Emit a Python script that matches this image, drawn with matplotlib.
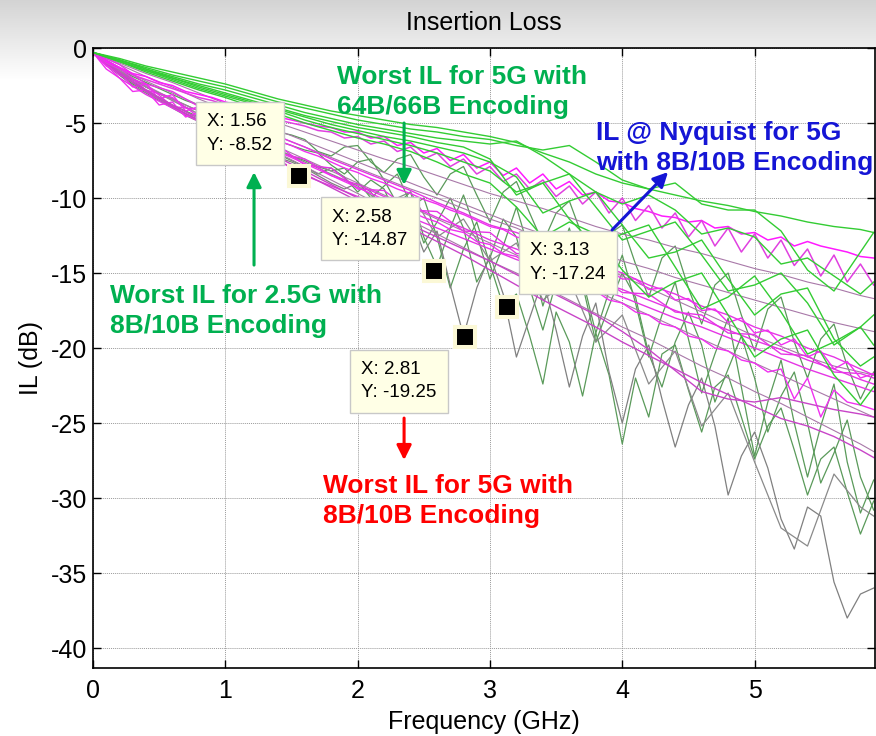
import numpy as np
import matplotlib
matplotlib.use("Agg")
import matplotlib.pyplot as plt
import matplotlib.transforms as mtransforms

plt.rcParams["font.family"] = ["Liberation Sans", "DejaVu Sans"]

# frequency grids (GHz)
freq_coarse = [0.0, 0.2, 0.4, 0.6, 0.8, 1.0, 1.2, 1.4, 1.6, 1.8, 2.0, 2.2, 2.4, 2.6, 2.8,
               3.0, 3.2, 3.4, 3.6, 3.8, 4.0, 4.2, 4.4, 4.6, 4.8, 5.0, 5.2, 5.4, 5.6, 5.8, 5.9]
freq_fine = [0.0, 0.1, 0.2, 0.3, 0.4, 0.5, 0.6, 0.7, 0.8, 0.9, 1.0, 1.1, 1.2, 1.3, 1.4,
             1.5, 1.6, 1.7, 1.8, 1.9, 2.0, 2.1, 2.2, 2.3, 2.4, 2.5, 2.6, 2.7, 2.8, 2.9,
             3.0, 3.1, 3.2, 3.3, 3.4, 3.5, 3.6, 3.7, 3.8, 3.9, 4.0, 4.1, 4.2, 4.3, 4.4,
             4.5, 4.6, 4.7, 4.8, 4.9, 5.0, 5.1, 5.2, 5.3, 5.4, 5.5, 5.6, 5.7, 5.8, 5.9]

# bright green channels (coarse grid)
green_1 = [-0.3, -0.7, -1.2, -1.6, -2.0, -2.4, -2.9, -3.4, -3.8, -4.2, -4.5, -4.8, -5.1, -5.3, -5.6,
           -5.9, -6.3, -7.0, -7.6, -8.4, -9.0, -9.4, -9.8, -10.2, -10.5, -10.9, -11.2, -11.6, -11.9, -12.1, -12.3]
green_2 = [-0.3, -0.8, -1.3, -1.8, -2.2, -2.6, -3.1, -3.6, -4.0, -4.4, -4.8, -5.1, -5.4, -5.6, -5.9,
           -6.1, -6.5, -6.8, -6.5, -7.6, -8.8, -9.4, -9.0, -10.4, -10.8, -10.8, -12.2, -14.8, -16.2, -13.6, -12.3]
green_3 = [-0.3, -0.8, -1.4, -1.9, -2.4, -2.8, -3.3, -3.8, -4.3, -4.7, -5.1, -5.4, -5.7, -6.0, -6.2,
           -6.4, -6.2, -7.2, -8.4, -9.6, -10.4, -9.8, -10.8, -12.4, -12.0, -12.6, -14.4, -14.0, -15.2, -16.4, -15.6]
green_4 = [-0.3, -0.8, -1.4, -2.0, -2.5, -3.0, -3.5, -4.0, -4.5, -4.9, -5.3, -5.6, -5.9, -6.3, -6.6,
           -7.4, -9.8, -9.0, -8.4, -10.6, -12.8, -12.2, -11.6, -13.8, -16.2, -15.8, -15.0, -17.0, -19.8, -18.6, -17.8]
green_5 = [-0.3, -0.9, -1.5, -2.0, -2.6, -3.1, -3.6, -4.1, -4.6, -5.1, -5.5, -5.9, -6.2, -6.6, -7.0,
           -7.6, -8.6, -11.0, -10.2, -9.6, -11.8, -14.0, -13.6, -12.8, -15.4, -17.8, -16.4, -16.0, -19.4, -21.2, -20.6]
green_6 = [-0.3, -0.9, -1.5, -2.1, -2.7, -3.2, -3.7, -4.2, -4.8, -5.3, -5.7, -6.1, -6.5, -7.0, -7.6,
           -8.2, -9.6, -9.0, -11.4, -13.2, -12.4, -11.8, -14.6, -17.4, -16.6, -15.2, -17.6, -20.4, -19.6, -18.6, -19.8]
green_7 = [-0.3, -0.9, -1.6, -2.2, -2.8, -3.3, -3.9, -4.4, -5.0, -5.5, -6.0, -6.4, -6.9, -7.6, -8.4,
           -9.0, -10.6, -12.6, -11.6, -12.4, -14.8, -16.6, -15.6, -15.0, -17.8, -20.6, -19.4, -18.8, -21.8, -23.8, -22.6]

# magenta channels
magenta_top = [-0.3, -0.9, -1.3, -1.7, -1.9, -2.3, -2.5, -2.9, -3.1, -3.3, -3.6, -3.8, -4.1, -4.3, -4.6,
               -4.8, -5.0, -5.2, -5.3, -5.6, -5.6, -6.0, -5.9, -6.5, -6.3, -7.0, -6.7, -7.5, -7.1, -8.0,
               -7.6, -8.5, -8.0, -9.0, -8.4, -9.4, -8.9, -9.8, -9.6, -10.2, -10.3, -10.7, -10.9, -11.2, -11.3,
               -11.6, -11.5, -12.0, -11.9, -12.4, -12.3, -12.8, -12.6, -13.2, -12.9, -13.2, -13.4, -13.6, -13.9, -14.0]
magenta_ripple = [-0.3, -1.0, -1.4, -1.8, -2.1, -2.4, -2.7, -3.0, -3.3, -3.5, -3.8, -4.0, -4.3, -4.5, -4.8,
                  -5.0, -5.2, -5.5, -5.6, -6.0, -5.9, -6.4, -6.2, -6.9, -6.6, -7.4, -7.0, -7.9, -7.4, -8.4,
                  -7.9, -8.9, -8.4, -9.4, -8.8, -9.9, -9.2, -10.4, -9.6, -11.0, -10.0, -11.5, -10.5, -12.0, -11.0,
                  -12.6, -11.5, -13.2, -12.0, -13.6, -12.4, -14.0, -12.8, -14.5, -13.4, -15.2, -13.8, -15.6, -14.4, -15.8]
magenta_jag_1 = [-0.3, -1.2, -1.6, -2.6, -2.4, -3.4, -3.1, -4.2, -3.9, -4.7, -4.6, -5.3, -5.4, -5.9, -6.2,
                 -6.5, -6.9, -7.2, -7.6, -8.0, -8.3, -8.7, -9.0, -9.4, -9.7, -10.1, -10.4, -10.8, -11.1, -11.5,
                 -11.9, -12.1, -12.6, -12.8, -13.3, -13.5, -14.0, -14.1, -14.7, -14.8, -15.4, -15.4, -16.1, -16.0, -16.8,
                 -16.7, -17.5, -17.4, -18.3, -18.0, -19.0, -18.8, -19.8, -19.4, -20.6, -20.2, -21.4, -20.9, -22.0, -21.7]
magenta_jag_2 = [-0.3, -1.4, -2.0, -2.9, -2.8, -3.8, -3.6, -4.6, -4.3, -5.2, -5.1, -5.8, -6.0, -6.5, -6.9,
                 -7.3, -7.7, -8.1, -8.5, -8.9, -9.3, -9.7, -10.1, -10.5, -10.9, -11.3, -11.6, -12.1, -12.3, -12.9,
                 -13.1, -13.7, -13.9, -14.5, -14.6, -15.3, -15.4, -16.0, -16.2, -16.8, -17.0, -17.6, -17.8, -18.4, -18.6,
                 -19.2, -19.4, -20.0, -20.2, -20.8, -21.0, -21.6, -21.4, -23.4, -22.0, -24.6, -22.8, -23.6, -23.8, -24.1]
magenta_3 = [-0.3, -1.1, -2.4, -2.9, -3.9, -4.3, -5.2, -5.9, -6.6, -7.4, -8.1, -8.8, -9.5, -10.3, -11.0,
             -11.8, -12.3, -13.0, -13.6, -14.4, -15.0, -15.8, -16.4, -17.2, -17.8, -18.6, -19.2, -20.0, -20.6, -21.4, -21.8]
magenta_4 = [-0.3, -1.8, -2.4, -3.9, -4.1, -5.4, -5.7, -7.0, -7.4, -8.5, -9.1, -9.9, -10.5, -11.3, -12.0,
             -12.8, -13.4, -14.2, -14.8, -15.5, -16.1, -16.8, -17.5, -18.1, -18.8, -19.5, -20.1, -20.8, -21.4, -22.1, -22.4]
magenta_5 = [-0.3, -2.0, -3.1, -4.0, -4.9, -5.6, -6.6, -7.5, -8.5, -9.2, -9.9, -10.6, -11.3, -12.0, -12.7,
             -13.4, -14.1, -14.7, -15.3, -16.0, -16.6, -17.3, -18.0, -18.6, -19.3, -20.0, -20.7, -21.4, -22.0, -22.6, -22.9]
magenta_6 = [-0.3, -1.3, -2.8, -3.3, -4.6, -4.8, -6.2, -6.5, -7.8, -8.0, -9.4, -9.5, -10.8, -10.9, -12.2,
             -12.3, -13.7, -13.8, -15.0, -15.1, -16.3, -16.4, -17.6, -17.8, -19.0, -19.1, -20.4, -20.5, -21.6, -21.7, -22.0]
magenta_7 = [-0.3, -1.6, -2.8, -3.8, -4.7, -5.5, -6.4, -7.3, -8.2, -9.1, -10.0, -10.9, -11.8, -12.6, -13.4,
             -14.2, -15.1, -16.0, -16.9, -17.8, -18.9, -20.1, -21.5, -22.9, -23.4, -23.6, -23.3, -23.7, -24.1, -24.4, -24.6]
magenta_8 = [-0.3, -1.7, -2.9, -3.9, -4.8, -5.6, -6.6, -7.5, -8.4, -9.3, -10.2, -11.1, -12.0, -12.9, -13.8,
             -14.8, -15.8, -16.8, -17.7, -18.6, -19.6, -20.5, -21.4, -22.3, -23.1, -23.9, -24.7, -25.2, -25.9, -26.8, -27.3]

# purple-grey channels (coarse grid)
purple_1 = [-0.3, -1.0, -1.7, -2.3, -3.0, -3.7, -4.3, -5.0, -5.6, -6.2, -6.8, -7.4, -7.9, -8.5, -9.1,
            -9.7, -10.2, -10.7, -11.3, -11.9, -12.4, -12.8, -13.3, -13.7, -14.2, -14.7, -15.1, -15.6, -16.0, -16.5, -16.7]
purple_2 = [-0.3, -1.1, -1.9, -2.6, -3.4, -4.1, -4.8, -5.5, -6.2, -6.9, -7.6, -8.3, -9.0, -9.7, -10.4,
            -11.1, -11.8, -12.4, -13.0, -13.6, -14.2, -14.7, -15.3, -15.8, -16.3, -16.8, -17.3, -17.8, -18.3, -18.7, -18.9]
purple_3 = [-0.3, -1.6, -2.6, -3.5, -4.4, -5.2, -6.1, -7.0, -7.9, -8.8, -9.7, -10.6, -11.5, -12.4, -13.3,
            -14.2, -15.0, -15.9, -16.8, -17.7, -18.6, -19.4, -20.3, -21.2, -22.0, -22.9, -23.7, -24.6, -25.5, -26.4, -26.9]
purple_4 = [-0.3, -1.5, -2.5, -3.4, -4.2, -5.0, -5.8, -6.6, -7.4, -8.2, -9.0, -9.8, -10.6, -11.4, -12.2,
            -13.0, -13.8, -14.6, -15.4, -16.2, -17.0, -17.8, -18.6, -19.4, -20.2, -21.0, -21.8, -22.6, -23.4, -24.2, -24.6]
purple_5 = [-0.3, -1.3, -2.2, -3.0, -3.8, -4.5, -5.2, -5.9, -6.6, -7.3, -8.0, -8.7, -9.4, -10.0, -10.7,
            -11.4, -12.0, -12.8, -13.6, -14.4, -15.2, -16.0, -16.8, -17.6, -18.4, -19.2, -19.9, -20.6, -21.2, -21.6, -21.8]

# dark green / grey channels with resonances (fine grid)
dark_1 = [-0.3, -0.9, -1.4, -1.9, -2.3, -2.7, -3.1, -3.5, -3.8, -4.1, -4.4, -4.7, -5.0, -5.3, -5.6,
          -5.8, -6.1, -6.9, -7.2, -6.6, -6.5, -7.6, -8.3, -7.4, -7.1, -8.6, -9.8, -8.4, -7.9, -9.8,
          -11.6, -9.6, -8.9, -11.0, -13.0, -11.0, -10.2, -12.6, -14.6, -12.4, -11.8, -14.4, -16.6, -14.0, -13.2,
          -16.0, -18.4, -15.8, -15.0, -17.8, -20.2, -17.4, -16.6, -19.6, -22.0, -19.4, -18.4, -21.2, -23.4, -21.6]
dark_2 = [-0.3, -1.0, -1.6, -2.1, -2.6, -3.0, -3.4, -3.8, -4.2, -4.5, -4.9, -5.2, -5.5, -5.9, -6.2,
          -6.5, -6.8, -7.0, -7.8, -8.4, -7.6, -7.4, -8.8, -10.4, -9.6, -12.6, -14.6, -12.0, -9.8, -12.4,
          -15.4, -13.2, -10.6, -13.6, -17.2, -14.4, -12.0, -15.4, -19.0, -16.2, -13.8, -17.0, -20.6, -17.8, -15.6,
          -19.4, -23.0, -20.4, -18.0, -22.6, -27.2, -23.6, -20.8, -25.0, -28.6, -25.2, -22.4, -27.6, -31.0, -28.8]
dark_3 = [-0.3, -1.1, -1.7, -2.3, -2.8, -3.3, -3.8, -4.2, -4.6, -5.0, -5.4, -5.8, -6.1, -6.5, -6.8,
          -7.2, -7.5, -7.9, -8.2, -8.0, -8.9, -10.0, -9.2, -8.4, -10.4, -13.0, -11.6, -10.0, -12.0, -15.6,
          -14.0, -11.4, -12.6, -16.0, -18.8, -15.6, -13.4, -15.8, -19.6, -17.2, -15.0, -16.6, -20.4, -22.6, -19.6,
          -17.6, -19.8, -23.6, -21.4, -19.2, -22.0, -25.6, -23.2, -21.6, -25.0, -29.0, -27.0, -24.8, -28.6, -30.8]
dark_4 = [-0.3, -1.1, -1.8, -2.4, -2.9, -3.4, -3.9, -4.4, -4.8, -5.2, -5.6, -6.0, -6.4, -6.8, -7.1,
          -7.5, -7.9, -8.4, -8.0, -8.6, -9.6, -8.8, -9.4, -11.4, -10.6, -10.0, -12.6, -16.0, -13.4, -11.6,
          -14.4, -17.2, -16.4, -19.2, -22.4, -17.6, -19.6, -23.2, -19.0, -21.8, -26.4, -22.0, -24.6, -20.4, -19.8,
          -22.8, -25.6, -22.6, -21.8, -24.6, -27.4, -25.2, -24.0, -26.8, -29.8, -27.4, -26.6, -29.6, -32.4, -30.2]
grey_1 = [-0.3, -1.1, -1.8, -2.5, -3.0, -3.5, -4.0, -4.5, -4.9, -5.3, -5.7, -6.1, -6.5, -6.9, -7.3,
          -7.6, -8.0, -8.5, -9.0, -9.4, -9.0, -9.6, -10.8, -10.0, -11.2, -13.6, -12.2, -15.8, -19.2, -16.0,
          -13.8, -16.4, -20.6, -18.0, -15.4, -18.8, -22.6, -19.2, -17.0, -21.6, -25.0, -21.4, -19.8, -23.4, -26.6,
          -23.8, -22.0, -25.2, -29.8, -27.2, -25.6, -28.0, -31.4, -33.4, -30.6, -31.2, -35.6, -38.0, -36.4, -36.0]
grey_2 = [-0.3, -1.5, -2.6, -3.5, -4.4, -5.2, -6.0, -6.8, -7.6, -8.4, -9.2, -10.4, -9.6, -12.6, -11.4,
          -14.2, -13.0, -16.8, -15.4, -19.6, -17.8, -22.4, -20.2, -25.2, -23.0, -27.6, -32.0, -33.2, -28.4, -30.6, -31.2]

# data tips
tip_x = [1.56, 2.58, 2.81, 3.13]
tip_y = [-8.52, -14.87, -19.25, -17.24]

fig = plt.figure(figsize=(8.76, 7.36), dpi=100)
fig.patch.set_facecolor("white")

# grey gradient of the figure window top
bg = fig.add_axes([0, 0, 1, 1], zorder=-5)
shade = np.ones((736, 1))
shade[:80, 0] = np.linspace(0.83, 1.0, 80)
bg.imshow(np.dstack([shade, shade, shade]), aspect="auto", extent=[0, 1, 0, 1])
bg.axis("off")

ax = fig.add_axes([93 / 876, 68 / 736, 782 / 876, 620 / 736])
ax.set_facecolor("white")

# draw the background channels first so the magenta bundle hides them at low frequency
for vals in [dark_1, dark_2, dark_3, dark_4]:
    ax.plot(freq_fine, vals, color="#5a9a5a", lw=0.9)
ax.plot(freq_fine, grey_1, color="#808080", lw=0.9)
ax.plot(freq_coarse, grey_2, color="#8a8a8a", lw=0.9)
for vals in [purple_1, purple_2, purple_3, purple_4, purple_5]:
    ax.plot(freq_coarse, vals, color="#a878a8", lw=0.8)
for vals in [magenta_3, magenta_4, magenta_5, magenta_6]:
    ax.plot(freq_coarse, vals, color="#e535e5", lw=1.0)
for vals in [magenta_jag_1, magenta_jag_2]:
    ax.plot(freq_fine, vals, color="#f030f0", lw=1.0)
for vals in [magenta_7, magenta_8]:
    ax.plot(freq_coarse, vals, color="#c844c8", lw=1.0)
ax.plot(freq_fine, magenta_top, color="#ff1aff", lw=1.1)
ax.plot(freq_fine, magenta_ripple, color="#e040e0", lw=1.1)
for vals in [green_1, green_2, green_3, green_4, green_5, green_6, green_7]:
    ax.plot(freq_coarse, vals, color="#33cc33", lw=1.0)

ax.set_xlim(0, 5.91)
ax.set_ylim(-41.33, 0)
ax.set_xticks([0, 1, 2, 3, 4, 5])
ax.set_yticks([0, -5, -10, -15, -20, -25, -30, -35, -40])
ax.set_yticklabels(["0", "-5", "-10", "-15", "-20", "-25", "-30", "-35", "-40"])
ax.grid(True, color="#9a9a9a", linestyle=(0, (1, 1)), lw=0.7)
ax.tick_params(direction="in", length=6, width=1, top=True, right=True,
               labelsize=18, pad=8)
ax.tick_params(axis="y", pad=4)
for sp in ax.spines.values():
    sp.set_linewidth(1.2)
ax.set_xlabel("Frequency (GHz)", fontsize=18, labelpad=5)
ax.set_ylabel("IL (dB)", fontsize=18, labelpad=6)
ax.set_title("Insertion Loss", fontsize=18, pad=13)

# data tip markers and boxes
ax.plot(tip_x, tip_y, "s", color="black", markersize=15, markeredgecolor="#fbf8d6",
        markeredgewidth=2.9, zorder=6)
box = dict(boxstyle="square,pad=0.6", facecolor="#ffffe6", edgecolor="#c8c8c8", lw=1)
tip_layout = [(-27, 22, "right", "bottom"), (-27, 22, "right", "bottom"),
              (-28, -24, "right", "top"), (23, 24, "left", "bottom")]
for xv, yv, (dx, dy, ha, va) in zip(tip_x, tip_y, tip_layout):
    tr = mtransforms.offset_copy(ax.transData, fig=fig, x=dx, y=dy, units="dots")
    ax.text(xv, yv, f"X: {xv:.2f}\nY: {yv:.2f}", transform=tr, ha=ha, va=va,
            multialignment="left", fontsize=13.5, linespacing=1.5, bbox=box, zorder=7)

# callouts
callout = dict(fontsize=19, fontweight="bold", va="top", ha="left", linespacing=1.33, zorder=8)
ax.text(1.845, -1.13, "Worst IL for 5G with\n64B/66B Encoding", color="#00b050", **callout)
ax.text(3.80, -4.87, "IL @ Nyquist for 5G\nwith 8B/10B Encoding", color="#1515d5", **callout)
ax.text(0.128, -15.74, "Worst IL for 2.5G with\n8B/10B Encoding", color="#00b050", **callout)
ax.text(1.74, -28.4, "Worst IL for 5G with\n8B/10B Encoding", color="#ff0000", **callout)

arrows = [((2.351, -5.0), (2.351, -9.13), "#00b050"),
          ((3.923, -12.13), (4.346, -8.27), "#1515d5"),
          ((1.217, -14.47), (1.217, -8.27), "#00b050"),
          ((2.351, -24.67), (2.351, -27.47), "#ff0000")]
for start, end, col in arrows:
    ax.annotate("", xy=end, xytext=start, zorder=8,
                arrowprops=dict(arrowstyle="-|>", color=col, lw=2.2, mutation_scale=22,
                                shrinkA=0, shrinkB=0))

fig.savefig("out.png", dpi=100)
